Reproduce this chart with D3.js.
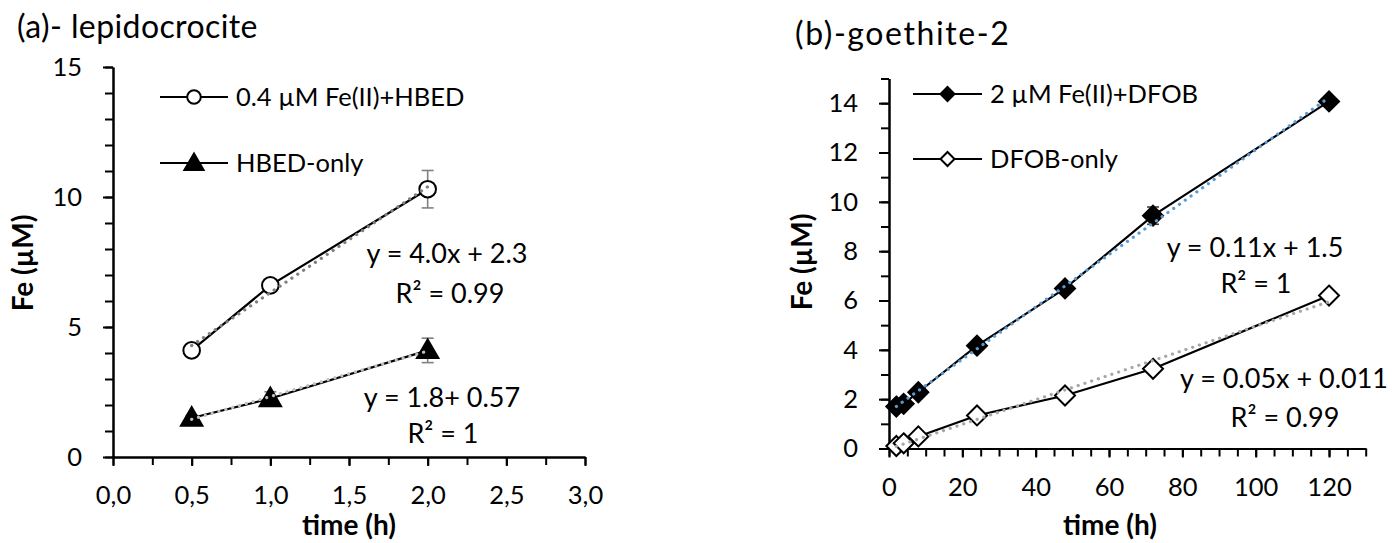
<!DOCTYPE html>
<html>
<head>
<meta charset="utf-8">
<script src="https://cdn.jsdelivr.net/npm/d3@7"></script>
<style>
  body { margin: 0; background: #fff; }
  text { font-family: Lato, "Open Sans", sans-serif; fill: #000; }
</style>
</head>
<body>
<svg id="chart" width="1396" height="543"></svg>
<script>
// ---- Panel (a): lepidocrocite, HBED ----
const timeA = [0.5, 1.0, 2.0];
const feHbed = [4.1, 6.6, 10.3];
const feHbedErr = [0.1, 0.1, 0.72];
const hbedOnly = [1.5, 2.25, 4.1];
const hbedOnlyErr = [0.1, 0.26, 0.47];
const xTicksA = [0, 0.5, 1.0, 1.5, 2.0, 2.5, 3.0];
const yTicksA = [0, 5, 10, 15];
const seriesNamesA = ["0.4 \u00b5M Fe(II)+HBED", "HBED-only"];
const fitLabelsA = [["y = 4.0x + 2.3", "R\u00b2 = 0.99"], ["y = 1.8+ 0.57", "R\u00b2 = 1"]];

// ---- Panel (b): goethite-2, DFOB ----
const timeB = [2, 4, 8, 24, 48, 72, 120];
const feDfob = [1.7, 1.81, 2.28, 4.17, 6.49, 9.44, 14.07];
const feDfobErr = [0.05, 0.05, 0.08, 0.1, 0.15, 0.35, 0.12];
const dfobOnly = [0.1, 0.21, 0.49, 1.34, 2.15, 3.23, 6.2];
const xTicksB = [0, 20, 40, 60, 80, 100, 120];
const yTicksB = [0, 2, 4, 6, 8, 10, 12, 14];
const seriesNamesB = ["2 \u00b5M Fe(II)+DFOB", "DFOB-only"];
const fitLabelsB = [["y = 0.11x + 1.5", "R\u00b2 = 1"], ["y = 0.05x + 0.011", "R\u00b2 = 0.99"]];

const svg = d3.select("#chart");
const FS = 25.5;      // tick labels and legend
const FS_FIT = 27;    // regression labels
const FS_AXIS = 28;   // axis titles
const FS_TITLE = 32;  // panel titles

// ordinary least-squares line through the points
function linFit(xs, ys) {
  const n = xs.length, mx = d3.mean(xs), my = d3.mean(ys);
  let sxy = 0, sxx = 0;
  for (let i = 0; i < n; i++) { sxy += (xs[i] - mx) * (ys[i] - my); sxx += (xs[i] - mx) ** 2; }
  const m = sxy / sxx;
  return { m, b: my - m * mx };
}

function styleAxis(g) {
  g.selectAll(".domain").attr("stroke", "#000").attr("stroke-width", 2);
  g.selectAll(".tick line").attr("stroke", "#000").attr("stroke-width", 2);
  g.selectAll(".tick text").attr("font-size", FS).attr("font-family", "Lato").attr("fill", "#000");
}

function drawAxes(x, y, xMajor, xMinor, yMajor, yMinor, xFmt) {
  const [x0] = x.range();
  const [y0] = y.range();
  // minor ticks
  svg.append("g").attr("transform", `translate(0,${y0})`)
    .call(d3.axisBottom(x).tickValues(xMinor).tickSize(8).tickSizeOuter(0).tickFormat(""))
    .call(styleAxis);
  svg.append("g").attr("transform", `translate(${x0},0)`)
    .call(d3.axisLeft(y).tickValues(yMinor).tickSize(8).tickSizeOuter(0).tickFormat(""))
    .call(styleAxis);
  // major ticks with labels
  svg.append("g").attr("transform", `translate(0,${y0})`)
    .call(d3.axisBottom(x).tickValues(xMajor).tickSize(9).tickSizeOuter(0).tickPadding(20).tickFormat(xFmt))
    .call(styleAxis);
  svg.append("g").attr("transform", `translate(${x0},0)`)
    .call(d3.axisLeft(y).tickValues(yMajor).tickSize(10).tickSizeOuter(0).tickPadding(21).tickFormat(d3.format("d")))
    .call(styleAxis);
}

function seriesLine(x, y, xs, ys) {
  svg.append("path")
    .attr("d", d3.line().x((d, i) => x(xs[i])).y(d => y(d))(ys))
    .attr("fill", "none").attr("stroke", "#000").attr("stroke-width", 2.2);
}

function errorBars(x, y, xs, ys, es, color) {
  xs.forEach((t, i) => {
    const cx = x(t), yt = y(ys[i] + es[i]), yb = y(ys[i] - es[i]);
    const g = svg.append("g").attr("stroke", color).attr("stroke-width", 1.6);
    g.append("line").attr("x1", cx).attr("x2", cx).attr("y1", yt).attr("y2", yb);
    g.append("line").attr("x1", cx - 6).attr("x2", cx + 6).attr("y1", yt).attr("y2", yt);
    g.append("line").attr("x1", cx - 6).attr("x2", cx + 6).attr("y1", yb).attr("y2", yb);
  });
}

function trend(x, y, xs, ys, color) {
  const f = linFit(xs, ys);
  const a = d3.min(xs), b = d3.max(xs);
  svg.append("line")
    .attr("x1", x(a)).attr("y1", y(f.m * a + f.b))
    .attr("x2", x(b)).attr("y2", y(f.m * b + f.b))
    .attr("stroke", color).attr("stroke-width", 3.2)
    .attr("stroke-linecap", "round").attr("stroke-dasharray", "0.1 7");
}

const sym = {
  circle: r => d3.symbol(d3.symbolCircle, Math.PI * r * r)(),
  triangle: s => d3.symbol(d3.symbolTriangle, s)(),
  diamond: h => `M0,${-h}L${h},0L0,${h}L${-h},0Z`
};

function markers(x, y, xs, ys, path, fill, dy = 0) {
  svg.append("g").selectAll("path").data(ys).join("path")
    .attr("transform", (d, i) => `translate(${x(xs[i])},${y(d) + dy})`)
    .attr("d", path).attr("fill", fill).attr("stroke", "#000").attr("stroke-width", 2);
}

function legendEntry(x1, x2, yy, path, fill, label, dy = 0) {
  svg.append("line").attr("x1", x1).attr("x2", x2).attr("y1", yy).attr("y2", yy)
    .attr("stroke", "#000").attr("stroke-width", 2.2);
  svg.append("path").attr("transform", `translate(${(x1 + x2) / 2},${yy + dy})`)
    .attr("d", path).attr("fill", fill).attr("stroke", "#000").attr("stroke-width", 2);
  svg.append("text").attr("x", x2 + 8).attr("y", yy).attr("dy", "0.35em")
    .attr("font-size", FS).text(label);
}

function label(txt, cx, by, size = FS_FIT, weight = 400) {
  svg.append("text").attr("x", cx).attr("y", by).attr("text-anchor", "middle")
    .attr("font-size", size).attr("font-weight", weight).text(txt);
}

// ================= Panel (a) =================
const xA = d3.scaleLinear().domain([0, 3]).range([113, 585]);
const yA = d3.scaleLinear().domain([0, 15]).range([457, 67]);
drawAxes(xA, yA, xTicksA, d3.range(0, 3.01, 0.25), yTicksA, d3.range(0, 15.1, 1),
  d => d3.format(".1f")(d).replace(".", ","));

svg.append("text").attr("x", 17).attr("y", 38).attr("font-size", FS_TITLE)
  .attr("letter-spacing", 0.4).text("(a)- lepidocrocite");
svg.append("text").attr("transform", "translate(33,263) rotate(-90)").attr("text-anchor", "middle")
  .attr("font-size", FS_AXIS).attr("font-weight", 700).text("Fe (\u00b5M)");
label("time (h)", 349, 535, FS_AXIS, 700);

errorBars(xA, yA, timeA, feHbed, feHbedErr, "#808080");
errorBars(xA, yA, timeA, hbedOnly, hbedOnlyErr, "#808080");
seriesLine(xA, yA, timeA, feHbed);
seriesLine(xA, yA, timeA, hbedOnly);
markers(xA, yA, timeA, feHbed, sym.circle(8.3), "#fff");
markers(xA, yA, timeA, hbedOnly, sym.triangle(200), "#000", 1.5);
trend(xA, yA, timeA, feHbed, "#7f7f7f");
trend(xA, yA, timeA, hbedOnly, "#bfbfbf");

legendEntry(160, 228, 97, sym.circle(6.8), "#fff", seriesNamesA[0]);
legendEntry(160, 228, 163, sym.triangle(160), "#000", seriesNamesA[1], 1.5);

label(fitLabelsA[0][0], 447, 263);
label(fitLabelsA[0][1], 450, 303);
label(fitLabelsA[1][0], 442, 407);
label(fitLabelsA[1][1], 443, 443);

// ================= Panel (b) =================
const xB = d3.scaleLinear().domain([0, 130]).range([889, 1365.7]);
const yB = d3.scaleLinear().domain([0, 15]).range([448.5, 78.5]);
drawAxes(xB, yB, xTicksB, d3.range(0, 131, 5), yTicksB, d3.range(0, 15.1, 1), d3.format("d"));

svg.append("text").attr("x", 795).attr("y", 45).attr("font-size", FS_TITLE)
  .attr("letter-spacing", 1.6).text("(b)-goethite-2");
svg.append("text").attr("transform", "translate(812,262) rotate(-90)").attr("text-anchor", "middle")
  .attr("font-size", FS_AXIS).attr("font-weight", 700).text("Fe (\u00b5M)");
label("time (h)", 1110, 535, FS_AXIS, 700);

errorBars(xB, yB, timeB, feDfob, feDfobErr, "#404040");
seriesLine(xB, yB, timeB, feDfob);
seriesLine(xB, yB, timeB, dfobOnly);
markers(xB, yB, timeB, feDfob, sym.diamond(10), "#000");
markers(xB, yB, timeB, dfobOnly, sym.diamond(10), "#fff");
trend(xB, yB, timeB, feDfob, "#5b9bd5");
trend(xB, yB, timeB, dfobOnly, "#a6a6a6");

legendEntry(913, 982, 94, sym.diamond(7), "#000", seriesNamesB[0]);
legendEntry(913, 982, 159, sym.diamond(7), "#fff", seriesNamesB[1]);

label(fitLabelsB[0][0], 1255, 257);
label(fitLabelsB[0][1], 1256, 293);
label(fitLabelsB[1][0], 1284, 388);
label(fitLabelsB[1][1], 1285, 427);
</script>
</body>
</html>
